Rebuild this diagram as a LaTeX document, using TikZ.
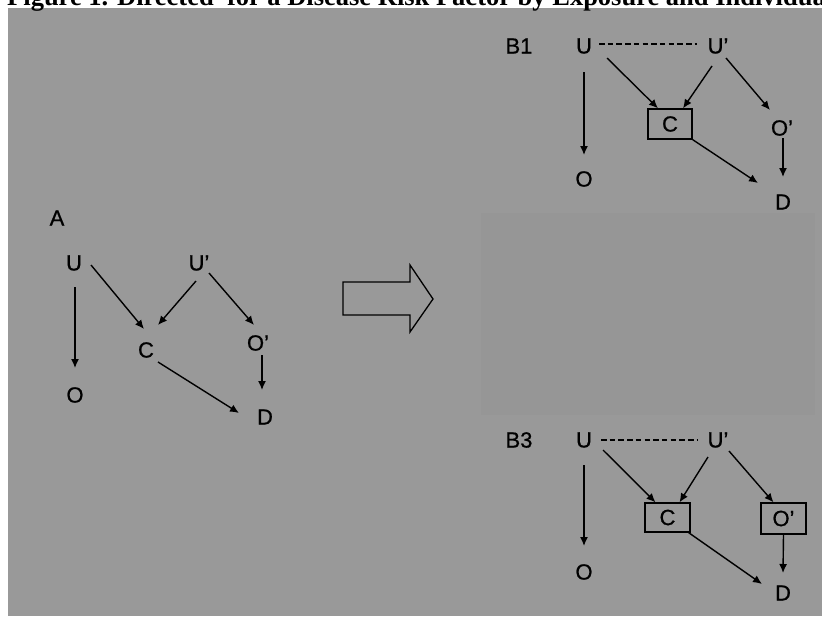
\documentclass[tikz,border=0pt]{standalone}
\usepackage{fontspec}
\setmainfont{Liberation Sans}
\newfontfamily\titlefont{Liberation Serif}
\newfontfamily\labfont[FakeBold=0.8]{Liberation Sans}
\usetikzlibrary{arrows.meta}
\definecolor{bggrey}{RGB}{153,153,153}
\definecolor{innergrey}{RGB}{150,150,150}
\begin{document}
\begin{tikzpicture}[x=1pt,y=-1pt,
  lab/.style={font=\labfont\fontsize{22}{26}\selectfont, inner sep=0pt},
  arr/.style={line width=1.4pt, -{Latex[length=9pt,width=8pt]}},
  dashline/.style={line width=1.2pt, dash pattern=on 5.5pt off 3.2pt},
  boxed/.style={lab, draw, line width=1.3pt, minimum width=44pt, minimum height=30pt}]
\useasboundingbox (0,0) rectangle (822,616);
\clip (0,0) rectangle (822,616);
\fill[bggrey] (8,8) rectangle (822,616);
\fill[innergrey] (481,213) rectangle (815,415);
\node[anchor=base west, font=\titlefont\bfseries\fontsize{26.5}{31}\selectfont, inner sep=0pt] (title) at (7,5) {Figure 1. Directed\ \ for a Disease Risk Factor by Exposure and Individual};

% Panel A
\node[lab] (aA) at (57,218) {A};
\node[lab] (aU) at (74,263) {U};
\node[lab] (aUp) at (199,263) {U’};
\node[lab] (aC) at (146,350) {C};
\node[lab] (aOp) at (258,343) {O’};
\node[lab] (aO) at (75,395) {O};
\node[lab] (aD) at (265,417) {D};
\draw[arr] ([shift={(1,24)}]aU.center) -- ([shift={(0,-27)}]aO.center);
\draw[arr] ([shift={(17,2)}]aU.center) -- ([shift={(-2,-21)}]aC.center);
\draw[arr] ([shift={(-3,18)}]aUp.center) -- ([shift={(12,-25)}]aC.center);
\draw[arr] ([shift={(10,10)}]aUp.center) -- ([shift={(-4,-18)}]aOp.center);
\draw[arr] ([shift={(4,12)}]aOp.center) -- ([shift={(-3,-27)}]aD.center);
\draw[arr] ([shift={(12,12)}]aC.center) -- ([shift={(-26,-4)}]aD.center);

% big hollow arrow
\draw[line width=1.3pt, line join=miter] (343,282) -- (410,282) -- (410,265) -- (433,299) -- (410,332) -- (410,315) -- (343,315) -- cycle;

% Panel B1
\node[lab] (bB) at (519,46) {B1};
\node[lab] (bU) at (584,46) {U};
\node[lab] (bUp) at (718,46) {U’};
\node[boxed] (bC) at (670,124) {C};
\node[lab] (bOp) at (782,128) {O’};
\node[lab] (bO) at (584,179) {O};
\node[lab] (bD) at (783,202) {D};
\draw[dashline] ([shift={(15,-2)}]bU.center) -- ([shift={(-21,-2)}]bUp.center);
\draw[arr] ([shift={(0,26)}]bU.center) -- ([shift={(0,-24)}]bO.center);
\draw[arr] ([shift={(23,12)}]bU.center) -- ([xshift=-12pt]bC.north);
\draw[arr] ([shift={(-6,20)}]bUp.center) -- ([xshift=13pt]bC.north);
\draw[arr] ([shift={(8,12)}]bUp.center) -- ([shift={(-12,-18)}]bOp.center);
\draw[arr] (bC.south east) -- ([shift={(-25,-19)}]bD.center);
\draw[arr] ([shift={(1,10)}]bOp.center) -- ([shift={(0,-25)}]bD.center);

% Panel B3
\node[lab] (cB) at (519,440) {B3};
\node[lab] (cU) at (584,440) {U};
\node[lab] (cUp) at (718,440) {U’};
\node[boxed, minimum width=45pt, minimum height=29pt] (cC) at (667.5,517.5) {C};
\node[boxed, minimum width=45pt, minimum height=31pt] (cOp) at (783.5,518.5) {O’};
\node[lab] (cO) at (584,572) {O};
\node[lab] (cD) at (783,593) {D};
\draw[dashline] ([shift={(17,0)}]cU.center) -- ([shift={(-20,0)}]cUp.center);
\draw[arr] ([shift={(0,25)}]cU.center) -- ([shift={(0,-26)}]cO.center);
\draw[arr] ([shift={(19,10)}]cU.center) -- ([xshift=-12pt]cC.north);
\draw[arr] ([shift={(-10,17)}]cUp.center) -- ([xshift=12pt]cC.north);
\draw[arr] ([shift={(11,11)}]cUp.center) -- ([xshift=-10pt]cOp.north);
\draw[arr] ([xshift=-2pt]cC.south east) -- ([shift={(-21,-9)}]cD.center);
\draw[arr] (cOp.south) -- ([shift={(0,-20)}]cD.center);
\end{tikzpicture}
\end{document}
